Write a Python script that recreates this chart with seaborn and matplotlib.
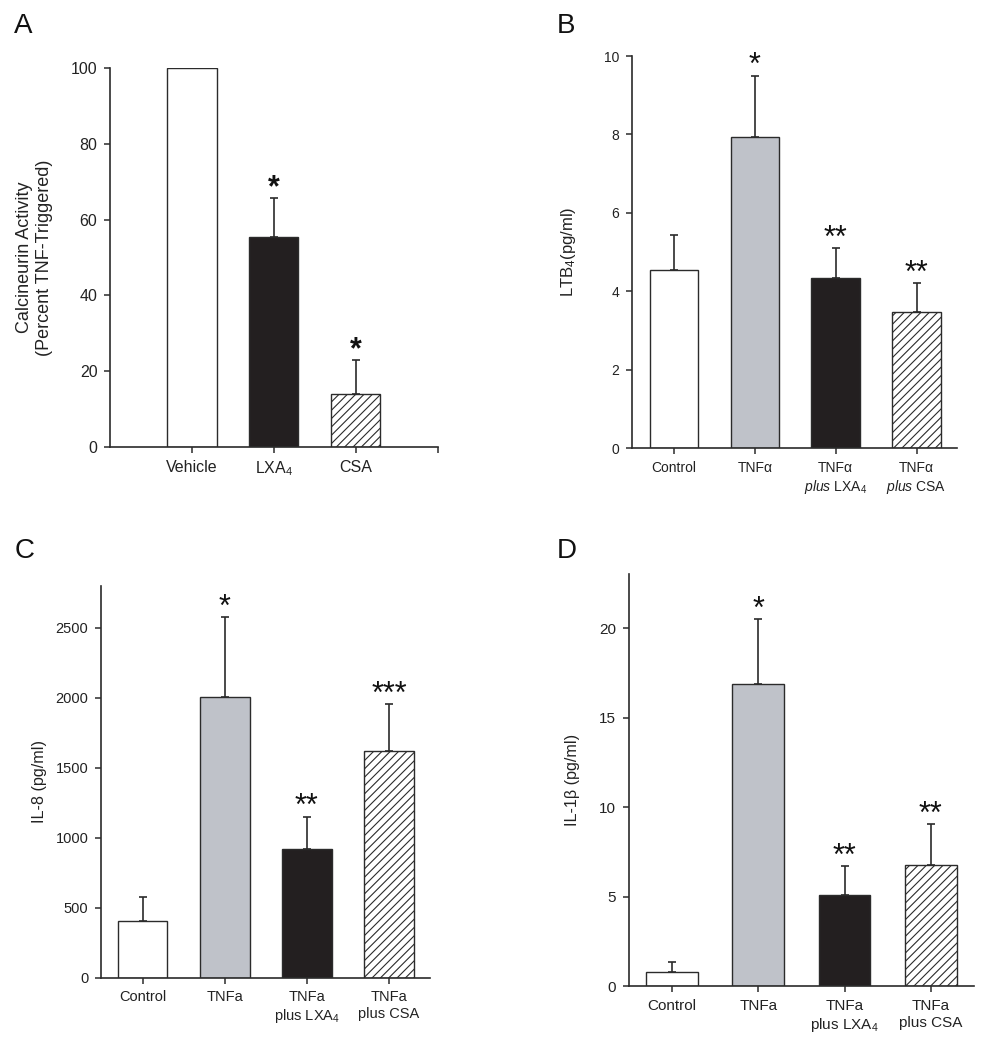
import matplotlib
matplotlib.use("Agg")
import matplotlib.pyplot as plt
import seaborn as sns

# --- Panel A : calcineurin activity ---
a_labels = ["Vehicle", "LXA$_4$", "CSA"]
a_means = [100.0, 55.4, 13.9]
a_errs = [0.0, 10.3, 9.1]
a_stars = ["", "*", "*"]

# --- Panel B : LTB4 ---
b_labels = ["Control", "TNF\u03b1", "TNF\u03b1\n$\\mathit{plus}$ LXA$_4$", "TNF\u03b1\n$\\mathit{plus}$ CSA"]
b_means = [4.55, 7.93, 4.33, 3.47]
b_errs = [0.88, 1.57, 0.77, 0.73]
b_stars = ["", "*", "**", "**"]

# --- Panel C : IL-8 ---
c_labels = ["Control", "TNFa", "TNFa\nplus LXA$_4$", "TNFa\nplus CSA"]
c_means = [405, 2005, 919, 1619]
c_errs = [174, 569, 231, 334]
c_stars = ["", "*", "**", "***"]

# --- Panel D : IL-1beta ---
d_labels = ["Control", "TNFa", "TNFa\nplus LXA$_4$", "TNFa\nplus CSA"]
d_means = [0.82, 16.9, 5.08, 6.76]
d_errs = [0.54, 3.6, 1.62, 2.29]
d_stars = ["", "*", "**", "**"]

bar_colors = ["#ffffff", "#bfc2c9", "#231f20", "#ffffff"]
INK = "#2b2b2b"

sns.set_style("ticks")
plt.rcParams["font.family"] = ["Liberation Sans", "DejaVu Sans"]
plt.rcParams["mathtext.fontset"] = "custom"
plt.rcParams["mathtext.rm"] = "Liberation Sans"
plt.rcParams["mathtext.it"] = "Liberation Sans:italic"
plt.rcParams["hatch.linewidth"] = 0.8


def draw_panel(ax, labels, means, errs, stars, ylim, yticks, ylabel, xlim,
               fs, lab_fs, star_bold=False, extra_tick=False, label_x=-0.17):
    n = len(labels)
    if n == 4:
        colors = bar_colors
    else:
        colors = [bar_colors[0], bar_colors[2], bar_colors[3]]
    sns.barplot(x=labels, y=means, hue=labels, palette=dict(zip(labels, colors)),
                legend=False, width=0.6, saturation=1, edgecolor=INK,
                linewidth=1.0, ax=ax)
    ax.patches[n - 1].set_hatch("////")

    # upper error bars only
    pos = [i for i in range(n) if errs[i] > 0]
    ax.errorbar(pos, [means[i] for i in pos],
                yerr=[[0] * len(pos), [errs[i] for i in pos]],
                fmt="none", ecolor=INK, elinewidth=1.2, capsize=2.8,
                capthick=1.2, zorder=1)

    for i, s in enumerate(stars):
        if s:
            ax.annotate(s, (i, means[i] + errs[i]), xytext=(0, 1),
                        textcoords="offset points", ha="center", va="baseline",
                        fontsize=22, color="#111111",
                        fontweight="bold" if star_bold else "normal")

    ax.set_ylim(*ylim)
    ax.set_xlim(*xlim)
    ax.set_yticks(yticks)
    ax.set_yticklabels([str(t) for t in yticks], fontsize=fs, color="#222222")
    ticks = list(range(n)) + ([n] if extra_tick else [])
    ax.set_xticks(ticks)
    ax.set_xticklabels(labels + ([""] if extra_tick else []), fontsize=fs,
                       color="#222222", linespacing=1.25)
    ax.set_xlabel("")
    ax.set_ylabel(ylabel, fontsize=lab_fs, color="#222222", linespacing=1.2)
    ax.yaxis.set_label_coords(label_x, 0.5)
    sns.despine(ax=ax)
    for sp in ("left", "bottom"):
        ax.spines[sp].set_linewidth(1.2)
        ax.spines[sp].set_color(INK)
    ax.tick_params(direction="out", length=4, width=1.1, color=INK, pad=5)


fig = plt.figure(figsize=(9.87, 10.5), dpi=100)
W, H = 987.0, 1050.0


def add_axes(x0, y0, x1, y1):
    return fig.add_axes([x0 / W, 1 - y1 / H, (x1 - x0) / W, (y1 - y0) / H])


axA = add_axes(110, 68, 437.7, 447)
axB = add_axes(632, 56, 957, 448)
axC = add_axes(101, 585.7, 430, 977.7)
axD = add_axes(628.7, 574.3, 974, 986.3)

draw_panel(axA, a_labels, a_means, a_errs, a_stars, (0, 100), list(range(0, 101, 20)),
           "Calcineurin Activity\n(Percent TNF-Triggered)", (-1, 3), 11.5, 13,
           star_bold=True, extra_tick=True, label_x=-0.175)
draw_panel(axB, b_labels, b_means, b_errs, b_stars, (0, 10), list(range(0, 11, 2)),
           "LTB$_4$(pg/ml)", (-0.52, 3.5), 10, 12, label_x=-0.165)
draw_panel(axC, c_labels, c_means, c_errs, c_stars, (0, 2800), list(range(0, 2501, 500)),
           "IL-8 (pg/ml)", (-0.51, 3.5), 10.5, 11.6, label_x=-0.165)
draw_panel(axD, d_labels, d_means, d_errs, d_stars, (0, 23), list(range(0, 21, 5)),
           "IL-1\u03b2 (pg/ml)", (-0.5, 3.5), 11, 11.6, label_x=-0.14)

for letter, (px, py) in {"A": (14, 33), "B": (557, 33), "C": (15, 558), "D": (557, 558)}.items():
    fig.text(px / W, 1 - py / H, letter, fontsize=20, color="#111111", va="baseline")

fig.savefig("out.png", dpi=100)
